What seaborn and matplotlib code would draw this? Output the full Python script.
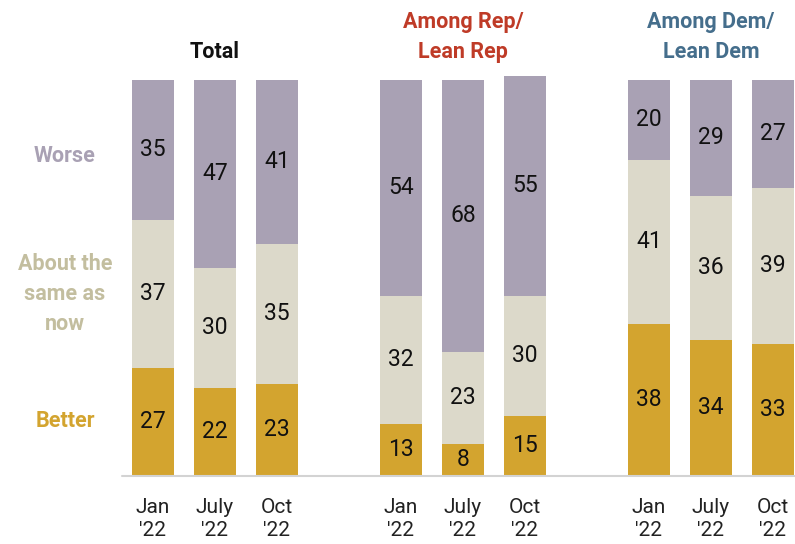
import matplotlib
matplotlib.use("Agg")
import matplotlib.pyplot as plt
import seaborn as sns
import pandas as pd

# Survey results: share saying economic conditions will be better / same / worse
groups = ["Total", "Among Rep/\nLean Rep", "Among Dem/\nLean Dem"]
waves = ["Jan\n'22", "July\n'22", "Oct\n'22"]
better = [27, 22, 23, 13, 8, 15, 38, 34, 33]
same = [37, 30, 35, 32, 23, 30, 41, 36, 39]
worse = [35, 47, 41, 54, 68, 55, 20, 29, 27]

title_colors = ["#111111", "#BF3B27", "#456E8C"]
c_better, c_same, c_worse = "#D3A42F", "#DCD9CA", "#A9A1B4"

sns.set_theme(style="white")
plt.rcParams["font.family"] = ["Roboto", "DejaVu Sans"]

# positions with a two-slot gap between groups
xpos = [g * 4 + i for g in range(3) for i in range(3)]
df = pd.DataFrame({
    "x": xpos,
    "better": better,
    "same": same,
    "worse": worse,
})
df["lvl2"] = df["better"] + df["same"]
df["lvl3"] = df["lvl2"] + df["worse"]

fig = plt.figure(figsize=(7.95, 5.44), dpi=100)
ax = fig.add_axes([122 / 795, 68 / 544, 673 / 795, 400 / 544])

bw = 0.68
for col, color in [("lvl3", c_worse), ("lvl2", c_same), ("better", c_better)]:
    sns.barplot(data=df, x="x", y=col, native_scale=True, color=color,
                width=bw, saturation=1, ax=ax, linewidth=0, edgecolor="none")

ax.set_xlim(-0.5, 10.355)
ax.set_ylim(0, 100)
for s in ax.spines.values():
    s.set_visible(False)
ax.axhline(0, color="#D3D3D3", lw=1.5, clip_on=False, zorder=5)
ax.set_xlabel("")
ax.set_ylabel("")
ax.set_yticks([])
ax.set_xticks(xpos)
ax.set_xticklabels(waves * 3, fontsize=15, color="#222222", linespacing=1.3)
ax.tick_params(axis="x", length=0, pad=15.5)

# values centred in each segment
num_kw = dict(ha="center", va="center", fontsize=16.5, color="#111111")
for _, r in df.iterrows():
    ax.text(r["x"], r["better"] / 2, f"{r['better']:d}", **num_kw)
    ax.text(r["x"], r["better"] + r["same"] / 2, f"{r['same']:d}", **num_kw)
    ax.text(r["x"], r["lvl2"] + r["worse"] / 2, f"{r['worse']:d}", **num_kw)

# group headings
for g, (t, c) in enumerate(zip(groups, title_colors)):
    ax.text(g * 4 + 1, 103.2, t, ha="center", va="bottom",
            fontsize=15.5, fontweight="bold", color=c, linespacing=1.5,
            clip_on=False)

# category labels on the left
lx = -1.42
lab_kw = dict(ha="center", va="center", fontsize=15.5, fontweight="bold",
              clip_on=False)
ax.text(lx, 80.0, "Worse", color="#A9A1B4", **lab_kw)
ax.text(lx, 45.5, "About the\nsame as\nnow", color="#C3BE9F",
        linespacing=1.45, **lab_kw)
ax.text(lx, 13.7, "Better", color="#D3A42F", **lab_kw)

fig.savefig("out.png", dpi=100)
